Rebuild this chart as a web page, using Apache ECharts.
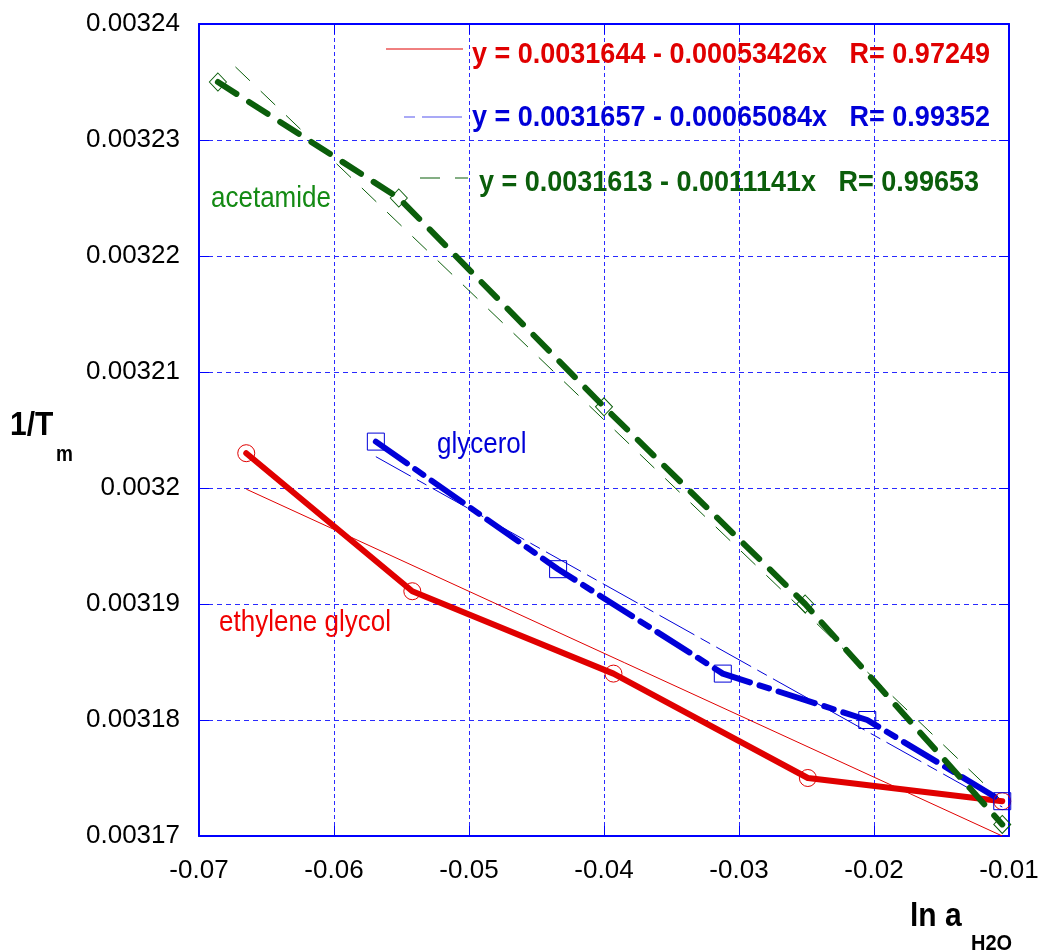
<!DOCTYPE html>
<html><head><meta charset="utf-8">
<script src="https://cdn.jsdelivr.net/npm/echarts@6/dist/echarts.min.js"></script>
<style>html,body{margin:0;padding:0;background:#fff}#c{width:1042px;height:950px}</style>
</head><body><div id="c"></div>
<script>
// ---- data ----
const xTickLabels = ['-0.07','-0.06','-0.05','-0.04','-0.03','-0.02','-0.01'];
const yTickLabels = ['0.00317','0.00318','0.00319','0.0032','0.00321','0.00322','0.00323','0.00324'];

const ethyleneGlycol = [[-0.0665,0.003203],[-0.0542,0.0031911],[-0.0393,0.003184],[-0.0249,0.003175],[-0.0105,0.003173]];
const glycerol       = [[-0.0569,0.003204],[-0.0434,0.003193],[-0.0312,0.003184],[-0.0205,0.003180],[-0.0105,0.003173]];
const acetamide      = [[-0.0686,0.003235],[-0.0552,0.003225],[-0.0400,0.003207],[-0.0251,0.003190],[-0.0105,0.003171]];

const ethyleneFit = [[-0.0665,0.0031999],[-0.0105,0.0031700]];
const glycerolFit = [[-0.0569,0.0032027],[-0.0105,0.0031725]];
const acetamideFit = [[-0.0673,0.0032363],[-0.0105,0.0031730]];

const eqTexts = [
  'y = 0.0031644 - 0.00053426x   R= 0.97249',
  'y = 0.0031657 - 0.00065084x   R= 0.99352',
  'y = 0.0031613 - 0.0011141x   R= 0.99653'
];
const seriesNames = ['ethylene glycol','glycerol','acetamide'];

// ---- styles ----
const RED = '#e00000', BLUE = '#0000d8', GREEN = '#0b5e0b', GREEN_LBL = '#148a14';
const FONT = '"Liberation Sans", Arial, sans-serif';
const GRIDC = '#2a2aff', AXISC = '#0000ff';
const SY = 1.12;

const chart = echarts.init(document.getElementById('c'));

const commonX = {type:'value', min:-0.07, max:-0.01, interval:0.01};
const commonY = {type:'value', min:0.00317, max:0.00324, interval:0.00001};
const tick = {show:true, inside:true, length:10, lineStyle:{color:AXISC, width:1}};
const axLine = {show:true, lineStyle:{color:AXISC, width:2}};

function idxOf(v, min, step){ return Math.round((v - min)/step); }
function txt(x, y, text, fill, font){
  return {type:'text', x:x, y:y, scaleY:SY, z:10,
    style:{text:text, fill:fill, font:font, textVerticalAlign:'middle'}};
}

chart.setOption({
  animation:false,
  backgroundColor:'#fff',
  grid:{left:199, right:33, top:24, bottom:114, containLabel:false},
  xAxis:[
    Object.assign({}, commonX, {position:'bottom', axisLine:axLine, axisTick:tick,
      axisLabel:{color:'#000', fontSize:26, fontFamily:FONT, margin:22,
        formatter:v => xTickLabels[idxOf(v,-0.07,0.01)]},
      splitLine:{show:true, lineStyle:{color:GRIDC, width:1, type:[4,3]}}}),
    Object.assign({}, commonX, {position:'top', axisLine:axLine, axisTick:tick,
      axisLabel:{show:false}, splitLine:{show:false}})
  ],
  yAxis:[
    Object.assign({}, commonY, {position:'left', axisLine:axLine, axisTick:tick,
      axisLabel:{color:'#000', fontSize:26, fontFamily:FONT, margin:19,
        formatter:v => yTickLabels[idxOf(v,0.00317,0.00001)]},
      splitLine:{show:true, lineStyle:{color:GRIDC, width:1, type:[5,4]}}}),
    Object.assign({}, commonY, {position:'right', axisLine:axLine, axisTick:tick,
      axisLabel:{show:false}, splitLine:{show:false}})
  ],
  series:[
    {name:seriesNames[0]+' fit', type:'line', data:ethyleneFit, showSymbol:false, z:2,
      lineStyle:{color:RED, width:1}},
    {name:seriesNames[1]+' fit', type:'line', data:glycerolFit, showSymbol:false, z:2,
      lineStyle:{color:BLUE, width:1, type:[40,7,11,7]}},
    {name:seriesNames[2]+' fit', type:'line', data:acetamideFit, showSymbol:false, z:2,
      lineStyle:{color:GREEN, width:1, type:[20,15]}},
    {name:seriesNames[0], type:'line', data:ethyleneGlycol, z:3,
      symbol:'circle', symbolSize:17,
      itemStyle:{color:'rgba(0,0,0,0)', borderColor:RED, borderWidth:1},
      lineStyle:{color:RED, width:6, cap:'round', join:'round'}},
    {name:seriesNames[1], type:'line', data:glycerol, z:3,
      symbol:'rect', symbolSize:17,
      itemStyle:{color:'rgba(0,0,0,0)', borderColor:BLUE, borderWidth:1},
      lineStyle:{color:BLUE, width:6, type:[38,10,10,10], cap:'round', join:'round'}},
    {name:seriesNames[2], type:'line', data:acetamide, z:3,
      symbol:'diamond', symbolSize:[17,18],
      itemStyle:{color:'rgba(0,0,0,0)', borderColor:GREEN, borderWidth:1},
      lineStyle:{color:GREEN, width:6, type:[22,15], cap:'round', join:'round'}}
  ],
  graphic:[
    // legend samples
    {type:'line', shape:{x1:386,y1:49,x2:463,y2:49}, style:{stroke:RED, lineWidth:1}, z:10},
    {type:'line', shape:{x1:404,y1:117,x2:462,y2:117}, style:{stroke:'#5555ee', lineWidth:1.2, lineDash:[11,7,40,7]}, z:10},
    {type:'line', shape:{x1:420,y1:178,x2:468,y2:178}, style:{stroke:GREEN, lineWidth:1.2, lineDash:[20,15]}, z:10},
    // equations
    txt(472, 55, eqTexts[0], RED, 'bold 27px '+FONT),
    txt(472, 118, eqTexts[1], BLUE, 'bold 27px '+FONT),
    txt(479, 183, eqTexts[2], GREEN, 'bold 27px '+FONT),
    // series labels
    txt(211, 199, seriesNames[2], GREEN_LBL, '26px '+FONT),
    txt(437, 445, seriesNames[1], BLUE, '26px '+FONT),
    txt(219, 623, seriesNames[0], '#f00000', '26px '+FONT),
    // axis titles
    txt(10, 426, '1/T', '#000', 'bold 30px '+FONT),
    txt(56, 455, 'm', '#000', 'bold 19px '+FONT),
    txt(910, 917, 'ln a', '#000', 'bold 30px '+FONT),
    txt(971, 944, 'H2O', '#000', 'bold 20px '+FONT)
  ]
});
</script>
</body></html>
